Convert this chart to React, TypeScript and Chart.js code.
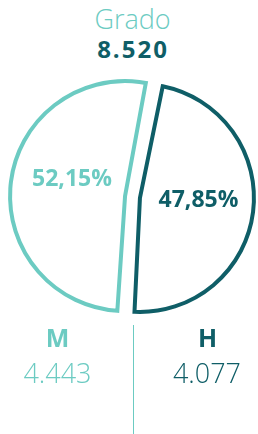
import React, { useEffect, useRef } from "react";
import { Chart, registerables } from "chart.js";

Chart.register(...registerables);

// Data
const categories = ["H", "M"];
const shares = [47.85, 52.15];
const shareLabels = ["47,85%", "52,15%"];
const totals = ["4.077", "4.443"];
const titleText = "Grado";
const totalText = "8.520";

const LIGHT = "#6ccbc2";
const DARK = "#0f5e67";
const sliceColors = [DARK, LIGHT];

const FONT = "'Open Sans', 'Noto Sans', sans-serif";

const percentLabelPlugin = {
  id: "percentLabels",
  afterDatasetsDraw(chart: any, _args: any, opts: any) {
    const ctx = chart.ctx;
    const meta = chart.getDatasetMeta(0);
    ctx.save();
    ctx.font = `700 ${opts.size}px ${FONT}`;
    ctx.textAlign = "center";
    ctx.textBaseline = "alphabetic";
    meta.data.forEach((el: any, i: number) => {
      const a = (el.startAngle + el.endAngle) / 2;
      const r = opts.dist;
      const s = opts.shift[i];
      ctx.fillStyle = sliceColors[i];
      ctx.fillText(
        shareLabels[i],
        el.x + Math.cos(a) * r + s[0],
        el.y + Math.sin(a) * r + s[1] + opts.size * 0.36
      );
    });
    ctx.restore();
  },
};

function PieChart() {
  const ref = useRef<HTMLCanvasElement | null>(null);
  useEffect(() => {
    if (!ref.current) return;
    const chart = new Chart(ref.current, {
      type: "pie",
      data: {
        labels: categories,
        datasets: [
          {
            data: shares,
            backgroundColor: "#ffffff",
            borderColor: sliceColors,
            borderWidth: 4,
            borderJoinStyle: "miter",
            offset: 30,
          } as any,
        ],
      },
      options: {
        responsive: false,
        animation: false,
        devicePixelRatio: 1,
        rotation: 11,
        radius: 107.5,
        layout: { padding: { left: 7, right: 0, top: 60, bottom: 100 } },
        plugins: {
          legend: { display: false },
          tooltip: { enabled: false },
          title: { display: false },
          percentLabels: { size: 23, dist: 65.5, shift: [[1, -6], [4.5, -11.5]] },
        } as any,
      } as any,
      plugins: [percentLabelPlugin],
    });
    return () => chart.destroy();
  }, []);
  return (
    <canvas
      ref={ref}
      width={258}
      height={434}
      style={{ position: "absolute", left: 0, top: 0, width: 258, height: 434 }}
    />
  );
}

function Txt(props: {
  text: string;
  cx: number;
  baseline: number;
  size: number;
  weight: number;
  color: string;
  spacing?: number;
}) {
  const { text, cx, baseline, size, weight, color, spacing = 0 } = props;
  return (
    <div
      style={{
        position: "absolute",
        left: cx - 100 + spacing / 2,
        width: 200,
        top: baseline - 0.888 * size,
        fontFamily: FONT,
        fontSize: size,
        fontWeight: weight,
        lineHeight: `${size}px`,
        color,
        textAlign: "center",
        letterSpacing: spacing,
        whiteSpace: "nowrap",
      }}
    >
      {text}
    </div>
  );
}

export default function App() {
  return (
    <div
      style={{
        position: "absolute",
        left: 0,
        top: 0,
        width: 258,
        height: 434,
        background: "#ffffff",
        overflow: "hidden",
      }}
    >
      <Txt text={titleText} cx={132.5} baseline={29.3} size={27} weight={300} color={LIGHT} />
      <Txt text={totalText} cx={132} baseline={58.3} size={24} weight={700} color={DARK} spacing={2} />
      <PieChart />
      <Txt text={categories[1]} cx={57.5} baseline={346.7} size={25} weight={700} color={LIGHT} />
      <Txt text={totals[1]} cx={57.5} baseline={382.7} size={27} weight={300} color={LIGHT} />
      <Txt text={categories[0]} cx={207.5} baseline={346.7} size={25} weight={700} color={DARK} />
      <Txt text={totals[0]} cx={207} baseline={382.7} size={27} weight={300} color={DARK} />
      <div
        style={{
          position: "absolute",
          left: 133,
          top: 325,
          width: 1,
          height: 109,
          background: LIGHT,
        }}
      />
    </div>
  );
}
